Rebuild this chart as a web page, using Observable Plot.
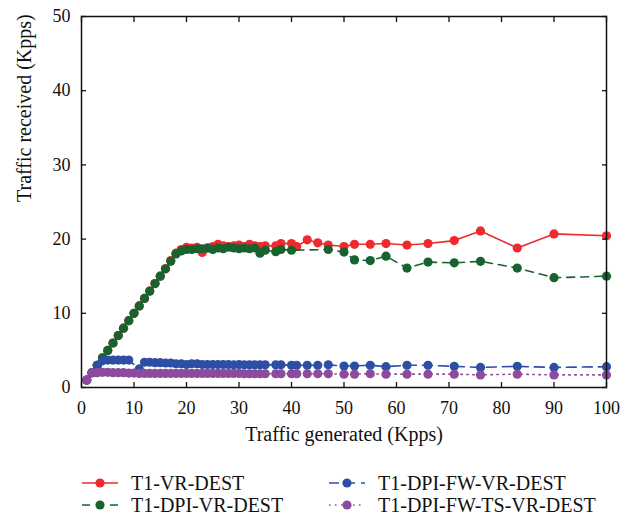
<!DOCTYPE html>
<html><head><meta charset="utf-8">
<script src="https://cdn.jsdelivr.net/npm/d3@7"></script>
<script src="https://cdn.jsdelivr.net/npm/@observablehq/plot@0.6"></script>
<style>
body{margin:0;background:#fff;}
#wrap{position:relative;width:632px;height:522px;font-family:"Liberation Serif","Times New Roman",Tinos,"Noto Serif","DejaVu Serif",serif;color:#111;}
.leg{position:absolute;display:flex;align-items:center;font-size:20px;line-height:22px;white-space:nowrap;}
.leg svg{margin-right:13px;}
</style></head><body><div id="wrap"></div>
<script>
const seriesNames = ["T1-VR-DEST", "T1-DPI-VR-DEST", "T1-DPI-FW-VR-DEST", "T1-DPI-FW-TS-VR-DEST"];
const seriesColors = ["#ee2a2e", "#17622f", "#2c4ea4", "#8c4b9d"];
const seriesDash = [null, "8,6", "10,6", "1.5,4.5"];

const xTicks = [0, 10, 20, 30, 40, 50, 60, 70, 80, 90, 100];
const yTicks = [0, 10, 20, 30, 40, 50];

// T1-VR-DEST
const redX = [1,2,3,4,5,6,7,8,9,10,11,12,13,14,15,16,17,18,19,20,21,22,23,24,25,26,27,28,29,30,31,32,33,34,35,37,38,40,41,43,45,47,50,52,55,58,62,66,71,76,83,90,100];
const redY = [1,2,3,4,5,6,7,8,9,10,11,12,13,14,15,16,17.1,18.1,18.6,18.9,18.8,18.9,18.2,18.8,19.0,19.3,19.1,19.0,19.1,19.2,19.0,19.3,19.1,19.0,19.1,19.1,19.4,19.4,19.0,19.9,19.5,19.2,19.0,19.3,19.3,19.4,19.2,19.4,19.8,21.1,18.8,20.7,20.45];
// T1-DPI-VR-DEST
const greenX = [1,2,3,4,5,6,7,8,9,10,11,12,13,14,15,16,17,18,19,20,21,22,23,24,25,26,27,28,29,30,31,32,33,34,35,37,38,40,47,50,52,55,58,62,66,71,76,83,90,100];
const greenY = [1,2,3,4,5,6,7,8,9,10,11,12,13,14,15,16,17.0,18.0,18.4,18.6,18.6,18.7,18.7,18.8,18.6,18.8,18.7,18.9,18.8,18.7,18.8,18.7,18.8,18.1,18.5,18.3,18.6,18.5,18.6,18.25,17.2,17.1,17.7,16.1,16.9,16.8,17.0,16.1,14.8,15.0];
// T1-DPI-FW-VR-DEST
const blueX = [1,2,3,4,5,6,7,8,9,11,12,13,14,15,16,17,18,19,20,21,22,23,24,25,26,27,28,29,30,31,32,33,34,35,37,38,40,41,43,45,47,50,52,55,58,62,66,71,76,83,90,100];
const blueY = [1,2,3.0,3.6,3.7,3.7,3.7,3.7,3.7,2.5,3.4,3.4,3.35,3.35,3.3,3.3,3.2,3.2,3.1,3.2,3.2,3.1,3.1,3.1,3.1,3.1,3.1,3.05,3.1,3.05,3.05,3.05,3.05,3.05,3.05,3.05,3.0,3.0,3.0,3.0,3.05,2.9,2.9,3.0,2.8,3.0,3.0,2.85,2.7,2.85,2.7,2.8];
// T1-DPI-FW-TS-VR-DEST
const purpleX = [1,2,3,4,5,6,7,8,9,10,11,12,13,14,15,16,17,18,19,20,21,22,23,24,25,26,27,28,29,30,31,32,33,34,35,37,38,40,41,43,45,47,50,52,55,58,62,66,71,76,83,90,100];
const purpleY = [1,2.0,2.0,2.05,2.05,2.0,2.0,2.0,1.95,1.95,1.9,1.9,1.9,1.9,1.9,1.9,1.9,1.9,1.9,1.9,1.9,1.9,1.9,1.9,1.9,1.9,1.9,1.9,1.9,1.9,1.85,1.85,1.85,1.85,1.85,1.85,1.85,1.85,1.85,1.85,1.85,1.85,1.8,1.8,1.85,1.8,1.8,1.8,1.8,1.7,1.8,1.7,1.7];

const allX = [redX, greenX, blueX, purpleX];
const allY = [redY, greenY, blueY, purpleY];
const series = allX.map((xs, s) => xs.map((x, i) => ({x, y: allY[s][i], name: seriesNames[s]})));

const marks = [];
series.forEach((rows, s) => {
  marks.push(Plot.line(rows, {x: "x", y: "y", stroke: seriesColors[s], strokeWidth: 1.6, strokeDasharray: seriesDash[s]}));
  marks.push(Plot.dot(rows, {x: "x", y: "y", r: 4.6, fill: seriesColors[s], stroke: "none"}));
});

const FONT = '"Liberation Serif","Times New Roman",Tinos,"Noto Serif","DejaVu Serif",serif';

const chart = Plot.plot({
  width: 632,
  height: 462,
  marginLeft: 81,
  marginRight: 26,
  marginTop: 16,
  marginBottom: 75,
  style: {fontFamily: FONT, fontSize: "18px", color: "#111", background: "#fff"},
  x: {domain: [0, 100]},
  y: {domain: [0, 50]},
  marks: [
    ...marks,
    Plot.frame({stroke: "#111", strokeWidth: 1.5}),
    Plot.axisX({ticks: xTicks, tickSize: 0, tickPadding: 14, label: null, tickFormat: d => d, fontFamily: FONT}),
    Plot.axisX({ticks: xTicks, tickSize: -5, fill: "none", label: null, strokeWidth: 1.3}),
    Plot.axisX({ticks: xTicks, anchor: "top", tickSize: -5, fill: "none", label: null, strokeWidth: 1.3}),
    Plot.axisY({ticks: yTicks, tickSize: 0, tickPadding: 11, label: null, tickFormat: d => d, fontFamily: FONT}),
    Plot.axisY({ticks: yTicks, tickSize: -5, fill: "none", label: null, strokeWidth: 1.3}),
    Plot.axisY({ticks: yTicks, anchor: "right", tickSize: -5, fill: "none", label: null, strokeWidth: 1.3}),
    Plot.text(["Traffic generated (Kpps)"], {text: d => d, frameAnchor: "bottom", dy: 53, fontSize: 20, fontFamily: FONT}),
    Plot.text(["Traffic received (Kpps)"], {text: d => d, frameAnchor: "left", dx: -57, rotate: -90, fontSize: 20, fontFamily: FONT})
  ]
});

const wrap = document.getElementById("wrap");
wrap.appendChild(chart);

// legend
const legPos = [[82, 472], [82, 494], [329, 472], [329, 494]];
seriesNames.forEach((name, s) => {
  const d = document.createElement("div");
  d.className = "leg";
  d.style.left = legPos[s][0] + "px";
  d.style.top = legPos[s][1] + "px";
  const dash = seriesDash[s] ? `stroke-dasharray="${seriesDash[s]}"` : "";
  d.innerHTML = `<svg width="36" height="22"><line x1="0" y1="11" x2="36" y2="11" stroke="${seriesColors[s]}" stroke-width="1.6" ${dash}></line><circle cx="18" cy="11" r="4.6" fill="${seriesColors[s]}"></circle></svg><span>${name}</span>`;
  wrap.appendChild(d);
});
</script></body></html>
